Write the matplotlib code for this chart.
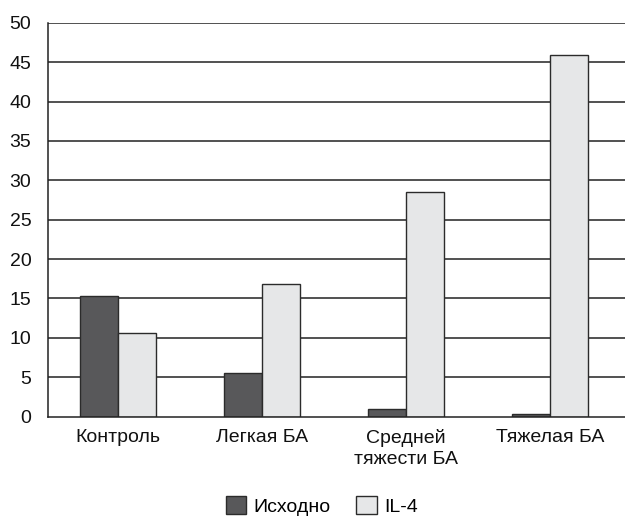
import numpy as np
import matplotlib
matplotlib.use("Agg")
from matplotlib import pyplot as plt
from matplotlib.patches import Patch

categories = ["Контроль", "Легкая БА", "Средней\nтяжести БА", "Тяжелая БА"]
ishodno = [15.3, 5.6, 1.0, 0.4]
il4 = [10.6, 16.9, 28.5, 45.9]
series_names = ["Исходно", "IL-4"]
y_ticks = [0, 5, 10, 15, 20, 25, 30, 35, 40, 45, 50]

plt.rcParams['font.family'] = ['Liberation Sans', 'DejaVu Sans']

fig = plt.figure(figsize=(6.25, 5.2), dpi=100)
ax = fig.add_axes([0.0768, 0.1987, 0.9232, 0.7576])

x = np.arange(len(categories))
w = 0.264
dark = '#58585a'
light = '#e6e7e8'
edge = '#2b2b2b'

# horizontal grid lines behind bars
for t in y_ticks[1:]:
    ax.axhline(t, color='#222222', lw=1.1, zorder=0)

ax.bar(x - w / 2, ishodno, w, color=dark, edgecolor=edge, lw=1.0, zorder=2)
ax.bar(x + w / 2, il4, w, color=light, edgecolor=edge, lw=1.0, zorder=2)

ax.set_xlim(-0.486, 3.521)
ax.set_ylim(0, 50)
ax.set_yticks(y_ticks)
ax.set_xticks(x)
ax.set_xticklabels(categories)
ax.tick_params(axis='both', length=0, labelsize=14, colors='#111111')
ax.tick_params(axis='x', pad=9)
ax.tick_params(axis='y', pad=12)
for lab in ax.get_xticklabels():
    lab.set_linespacing(1.3)

for s in ['top', 'right']:
    ax.spines[s].set_visible(False)
ax.spines['left'].set_color('#222222')
ax.spines['bottom'].set_color('#222222')
ax.spines['left'].set_linewidth(1.1)
ax.spines['bottom'].set_linewidth(1.1)

handles = [Patch(facecolor=dark, edgecolor=edge, lw=1.0),
           Patch(facecolor=light, edgecolor=edge, lw=1.0)]
fig.legend(handles, series_names, loc='lower center', bbox_to_anchor=(0.515, -0.025),
           ncol=2, frameon=False, fontsize=14, handlelength=1.05, handleheight=1.1,
           handletextpad=0.4, columnspacing=1.3)

fig.savefig("out.png", dpi=100)
